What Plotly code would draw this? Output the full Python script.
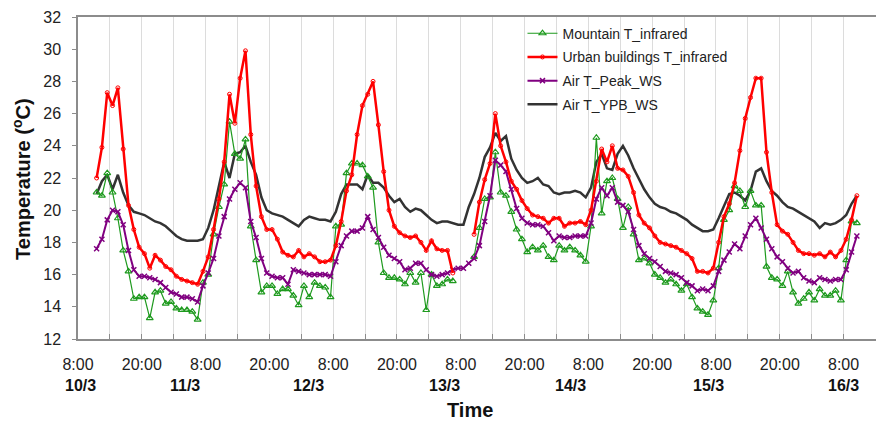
import pandas as pd
import plotly.graph_objects as go

# Hourly readings, 10/3 11:30 -> 16/3 10:30
times = pd.date_range("2010-03-10 11:30", periods=144, freq="h")

mountain_t_infrared = [
    21.1, 20.9, 22.3, 21.1, 19.5, 17.5, 16.2, 14.5, 14.6, 14.6, 13.3, 14.9, 15.0, 14.2, 14.3, 13.9,
    13.8, 13.8, 13.7, 13.2, 15.5, 16.0, 18.5, 20.2, 21.6, 25.5, 23.5, 23.2, 24.4, 19.0, 16.9, 14.9,
    15.3, 15.3, 14.8, 15.1, 15.1, 14.7, 14.1, 15.3, 14.6, 15.5, 15.3, 15.2, 14.6, 19.0, 19.1, 22.3,
    22.9, 22.9, 22.8, 22.1, 21.4, 18.0, 16.1, 15.8, 15.8, 15.7, 15.4, 16.1, 15.5, 16.1, 13.8, 16.0,
    15.3, 15.4, 15.7, 15.6, None, None, None, 17.1, 18.9, 20.7, 20.8, 23.6, 21.1, 20.9, 19.9, 18.8,
    18.2, 17.4, 17.7, 17.5, 17.8, 17.1, 16.9, 17.8, 17.5, 17.7, 17.5, 17.2, 16.8, 19.0, 24.5, 19.8,
    21.8, 22.0, 20.7, 18.9, 20.2, 18.5, 16.9, 17.0, 16.7, 16.0, 15.8, 15.5, 15.7, 15.4, 15.0, 15.4,
    14.6, 13.9, 13.7, 13.5, 14.4, 16.4, 19.4, 20.0, 21.5, 21.2, 20.2, 21.2, 20.3, 20.3, 16.5, 15.8,
    15.7, 15.3, 16.2, 14.9, 14.2, 14.5, 14.9, 14.4, 15.1, 14.7, 14.7, 15.0, 14.4, 16.9, 19.3, 19.2,
]

urban_t_infrared = [
    22.0, 23.9, 27.3, 26.5, 27.6, 23.8, 20.3, 18.8, 17.7, 17.3, 16.4, 17.2, 16.9, 16.5, 16.3, 15.9,
    15.7, 15.6, 15.5, 15.4, 16.2, 17.1, 18.8, 20.7, 23.0, 27.2, 25.4, 28.2, 29.9, 24.7, 21.5, 19.6,
    18.8, 18.8, 18.2, 17.4, 17.2, 17.1, 17.5, 17.1, 17.3, 17.1, 16.8, 16.8, 16.9, 17.8, 19.3, 21.2,
    22.2, 24.7, 26.5, 27.2, 28.0, 25.3, 22.4, 20.0, 19.0, 18.6, 18.4, 18.3, 18.4, 18.0, 17.5, 18.1,
    17.6, 17.5, 17.5, 16.1, None, None, None, 18.5, 20.5, 21.9, 22.9, 26.0, 24.0, 23.0, 21.8, 21.3,
    20.6, 20.1, 19.7, 19.6, 19.5, 19.2, 19.5, 19.5, 19.0, 19.2, 19.2, 19.3, 19.1, 20.0, 21.8, 23.8,
    23.0, 24.0, 22.6, 22.5, 22.1, 21.1, 19.7, 19.2, 18.9, 18.4, 18.0, 17.9, 17.8, 17.7, 17.5, 17.3,
    17.0, 16.2, 16.2, 16.1, 16.4, 18.0, 19.6, 20.4, 21.7, 23.7, 25.7, 27.0, 28.2, 28.2, 23.6, 21.1,
    19.1, 18.7, 18.5, 18.0, 17.5, 17.3, 17.3, 17.2, 17.3, 17.1, 17.4, 17.1, 17.5, 18.2, 19.4, 20.9,
]

air_t_peak_ws = [
    17.6, 18.2, 19.4, 20.0, 19.9, 19.1, 17.5, 16.3, 15.9, 15.9, 15.8, 15.7, 15.5, 15.2, 14.9, 14.8,
    14.6, 14.6, 14.5, 14.3, 15.3, 16.1, 17.0, 18.4, 19.6, 20.7, 21.3, 21.7, 21.4, 19.3, 18.3, 17.0,
    16.1, 15.9, 15.8, 15.8, 15.4, 16.3, 16.2, 16.1, 16.0, 16.0, 16.0, 16.0, 15.9, 16.8, 17.8, 18.4,
    18.7, 18.7, 18.9, 19.6, 18.8, 18.3, 17.7, 17.2, 17.0, 16.8, 16.3, 16.4, 16.7, 16.7, 16.3, 16.0,
    15.9, 16.0, 16.1, 16.3, 16.4, 16.4, 16.7, 17.0, 17.8, 19.3, 20.9, 23.1, 22.8, 22.4, 21.3, 20.1,
    19.5, 19.2, 19.1, 19.1, 19.0, 18.6, 18.1, 18.4, 18.3, 18.3, 18.4, 18.4, 18.4, 19.2, 20.7, 21.4,
    20.9, 21.4, 20.5, 20.3, 19.9, 18.8, 17.8, 17.3, 17.0, 16.8, 16.5, 16.2, 16.1, 16.0, 15.8, 15.5,
    15.3, 15.0, 15.1, 15.0, 15.3, 16.2, 16.9, 17.4, 17.9, 17.6, 18.4, 19.1, 19.5, 18.9, 18.2, 17.6,
    17.1, 16.8, 16.4, 16.1, 16.2, 15.8, 15.6, 15.5, 15.8, 15.7, 15.6, 15.7, 15.7, 16.3, 17.4, 18.4,
]

air_t_ypb_ws = [
    21.0, 21.8, 22.2, 21.3, 22.2, 21.1, 20.3, 19.9, 19.8, 19.7, 19.5, 19.3, 19.2, 19.0, 18.7, 18.4,
    18.2, 18.1, 18.1, 18.1, 18.2, 18.9, 20.0, 21.4, 23.0, 22.0, 23.5, 23.6, 24.0, 23.0, 22.2, 20.8,
    20.0, 19.8, 19.7, 19.6, 19.4, 19.2, 19.0, 19.4, 19.6, 19.5, 19.4, 19.4, 19.3, 19.9, 21.0, 21.6,
    21.6, 21.6, 21.3, 22.2, 21.7, 21.7, 21.4, 20.9, 20.5, 20.7, 20.2, 19.9, 20.1, 20.0, 19.7, 19.4,
    19.2, 19.3, 19.3, 19.2, 19.1, 19.1, 20.2, 21.0, 22.0, 23.3, 23.9, 24.8, 24.3, 24.6, 23.2, 22.5,
    22.0, 21.7, 21.8, 22.0, 21.6, 21.5, 21.1, 21.0, 21.1, 21.1, 21.2, 21.1, 20.8, 21.4, 23.0, 23.5,
    22.6, 22.5, 23.5, 24.0, 23.4, 22.6, 21.9, 21.3, 20.8, 20.4, 20.2, 20.1, 19.9, 19.8, 19.6, 19.4,
    19.1, 18.9, 18.7, 18.7, 18.8, 19.5, 20.3, 21.0, 21.1, 20.9, 20.6, 21.2, 22.4, 22.6, 21.8, 21.2,
    20.9, 20.5, 20.2, 20.1, 19.9, 19.7, 19.5, 19.3, 18.9, 19.2, 19.1, 19.2, 19.4, 19.7, 20.4, 20.9,
]

# Labelled ticks at 8:00 and 20:00; gridlines every 6 h via minor ticks
tick_times = pd.date_range("2010-03-10 08:00", "2010-03-16 08:00", freq="12h")
tick_text = [f"{t.hour}:00" for t in tick_times]

# Day labels under the time labels
day_labels = ["10/3", "11/3", "12/3", "13/3", "14/3", "15/3", "16/3"]
day_label_hours = [0.4, 20.1, 43.4, 69.0, 92.6, 118.5, 143.9]

x_start = pd.Timestamp("2010-03-10 08:00")
x_end = x_start + pd.Timedelta(hours=150.1)
six_hours_ms = 6 * 3600 * 1000

fig = go.Figure()

fig.add_trace(go.Scatter(
    x=times, y=air_t_ypb_ws, name="Air T_YPB_WS", mode="lines",
    line=dict(color="#333333", width=2.5), legendrank=4, legendgroup="ypb",
))
fig.add_trace(go.Scatter(
    x=times, y=mountain_t_infrared, name="Mountain T_infrared", mode="lines+markers",
    line=dict(color="#1e9a1e", width=1.2),
    marker=dict(symbol="triangle-up-open", size=6, color="#1e9a1e", line=dict(width=1.2)),
    legendrank=1, legendgroup="mountain",
))
fig.add_trace(go.Scatter(
    x=times, y=air_t_peak_ws, name="Air T_Peak_WS", mode="lines+markers",
    line=dict(color="#800080", width=2),
    marker=dict(symbol="x-thin-open", size=5, color="#800080", line=dict(width=1.5, color="#800080")),
    legendrank=3, legendgroup="peak",
))
fig.add_trace(go.Scatter(
    x=times, y=urban_t_infrared, name="Urban buildings T_infrared", mode="lines+markers",
    line=dict(color="#ff0000", width=2.5),
    marker=dict(symbol="circle-open", size=4, color="#ff0000", line=dict(width=1)),
    legendrank=2, legendgroup="urban",
))

for label, hrs in zip(day_labels, day_label_hours):
    fig.add_annotation(
        x=x_start + pd.Timedelta(hours=hrs), y=-0.143, xref="x", yref="paper",
        text=f"<b>{label}</b>", showarrow=False, xanchor="center", yanchor="middle",
        font=dict(size=16, color="#111111"),
    )

fig.add_annotation(
    x=0.491, y=-0.2205, xref="paper", yref="paper", text="<b>Time</b>",
    showarrow=False, xanchor="center", yanchor="middle",
    font=dict(size=20, color="#111111"),
)
fig.add_annotation(
    x=-0.0702, y=0.497, xref="paper", yref="paper",
    text="<b>Temperature (<sup>o</sup>C)</b>", textangle=-90,
    showarrow=False, xanchor="center", yanchor="middle",
    font=dict(size=20, color="#111111"),
)

fig.update_layout(
    width=876, height=427,
    margin=dict(l=78, r=0, t=17, b=88),
    paper_bgcolor="white", plot_bgcolor="white",
    font=dict(family="Liberation Sans, Arial, sans-serif", color="#222222"),
    legend=dict(
        x=0.557, y=0.998, xanchor="left", yanchor="top",
        bgcolor="rgba(0,0,0,0)", font=dict(size=14, color="#222222"),
        itemwidth=30, tracegroupgap=2.5,
    ),
    xaxis=dict(
        type="date", range=[x_start, x_end],
        tickmode="array", tickvals=tick_times, ticktext=tick_text,
        showgrid=True, gridcolor="#dcdcdc", gridwidth=1,
        minor=dict(
            tick0=x_start, dtick=six_hours_ms, showgrid=True,
            gridcolor="#dcdcdc", gridwidth=1,
            ticks="inside", ticklen=5, tickcolor="#8c8c8c",
        ),
        showline=True, linecolor="#8c8c8c", linewidth=1.5, mirror=True,
        ticks="inside", ticklen=5, tickcolor="#8c8c8c",
        tickfont=dict(size=16, color="#222222"), ticklabelstandoff=10,
        zeroline=False,
    ),
    yaxis=dict(
        range=[12, 32], dtick=2, tick0=12,
        showgrid=False, zeroline=False,
        showline=True, linecolor="#8c8c8c", linewidth=1.5,
        ticks="outside", ticklen=4, tickcolor="#8c8c8c",
        tickfont=dict(size=16, color="#222222"), ticklabelstandoff=8,
    ),
)

fig.write_html("out.html")
